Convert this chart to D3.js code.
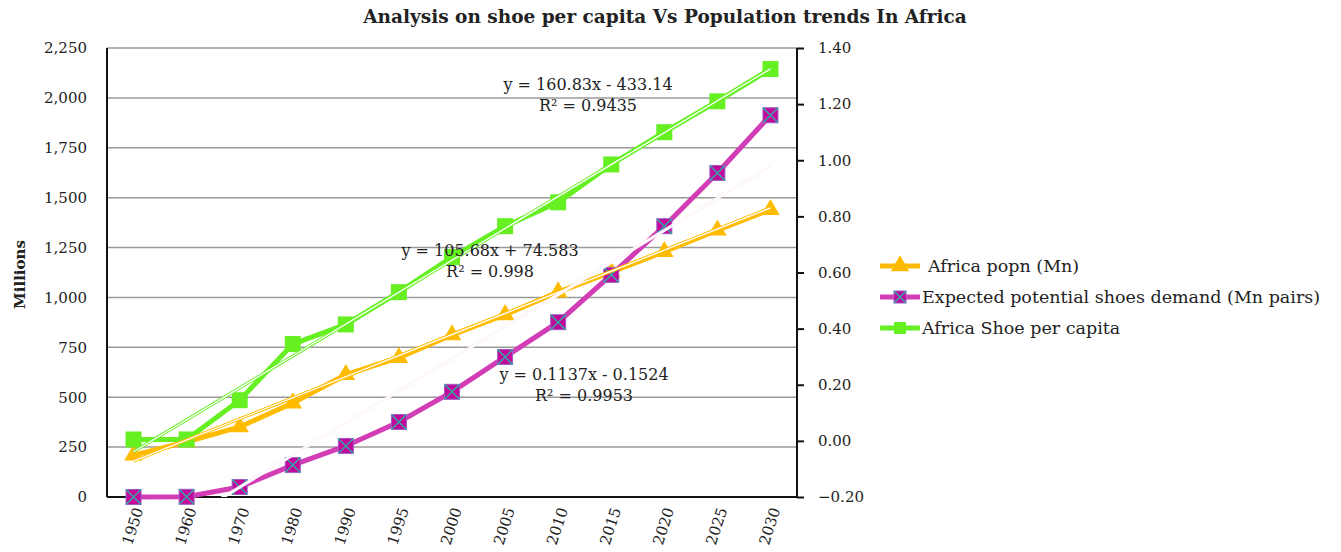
<!DOCTYPE html>
<html>
<head>
<meta charset="utf-8">
<script src="https://cdn.jsdelivr.net/npm/d3@7"></script>
<style>
  body { margin: 0; background: #fff; }
  text { font-family: "DejaVu Serif", "Liberation Serif", serif; fill: #222; }
  .grid line { stroke: #9a9a9a; stroke-width: 1.5; }
  .axis path, .axis line { stroke: #111; stroke-width: 2; }
  .axis text { font-size: 15px; }
</style>
</head>
<body>
<div id="chart"></div>
<script>
var years = ['1950', '1960', '1970', '1980', '1990', '1995', '2000', '2005', '2010', '2015', '2020', '2025', '2030'];
var popn = [210, 276, 351, 471, 613, 698, 812, 913, 1027, 1127, 1229, 1337, 1440];
var demand = [0, 1, 50, 160, 256, 376, 527, 702, 876, 1113, 1357, 1624, 1913];
var perCapita = [0.005, 0.005, 0.145, 0.345, 0.415, 0.53, 0.655, 0.765, 0.85, 0.985, 1.1, 1.21, 1.325];

var leftTicks = [0, 250, 500, 750, 1000, 1250, 1500, 1750, 2000, 2250];
var rightTicks = [-0.2, 0, 0.2, 0.4, 0.6, 0.8, 1.0, 1.2, 1.4];

// trendline coefficients [slope, intercept], as printed on the chart
var popnTrend = [105.68, 74.583];
var demandTrend = [160.83, -433.14];
var perCapitaTrend = [0.1137, -0.1524];

var seriesNames = ['Africa popn (Mn)', 'Expected potential shoes demand (Mn pairs)', 'Africa Shoe per capita'];
var trendLabels = [
  ['y = 105.68x + 74.583', 'R² = 0.998'],
  ['y = 160.83x - 433.14', 'R² = 0.9435'],
  ['y = 0.1137x - 0.1524', 'R² = 0.9953']
];

var W = 1341, H = 552;
var margin = {top: 48, right: 544, bottom: 55, left: 107};
var width = W - margin.left - margin.right,
    height = H - margin.top - margin.bottom;

var svg = d3.select('#chart').append('svg')
    .attr('width', W)
    .attr('height', H);

var g = svg.append('g')
    .attr('transform', 'translate(' + margin.left + ',' + margin.top + ')');

var x = d3.scaleBand().domain(years).range([0, width]),
    yL = d3.scaleLinear().domain([0, 2250]).range([height, 0]),
    yR = d3.scaleLinear().domain([-0.2, 1.4]).range([height, 0]),
    cx = function(d, i) { return x(years[i]) + x.bandwidth() / 2; },
    xTrend = d3.scaleLinear().domain([1, years.length])
        .range([x(years[0]) + x.bandwidth() / 2, x(years[years.length - 1]) + x.bandwidth() / 2]);

var colors = {
  popn: '#ffbb00',
  demand: '#d23cb4',
  demandFill: '#c4079a',
  demandEdge: '#9b5fc8',
  demandX: '#2ea9a6',
  green: '#66f022'
};

// gridlines from the left axis
g.append('g')
    .attr('class', 'grid')
  .selectAll('line')
  .data(leftTicks.slice(1))
    .enter().append('line')
    .attr('x1', 0)
    .attr('x2', width)
    .attr('y1', function(d) { return yL(d); })
    .attr('y2', function(d) { return yL(d); });

// axes
g.append('g')
    .attr('class', 'axis')
    .call(d3.axisLeft(yL).tickValues(leftTicks).tickSize(0).tickPadding(20).tickFormat(d3.format(',')))
    .call(function(a) { a.select('.domain').attr('d', 'M0,0V' + height); });

g.append('g')
    .attr('class', 'axis')
    .attr('transform', 'translate(' + width + ',0)')
    .call(d3.axisRight(yR).tickValues(rightTicks).tickSize(7).tickPadding(14).tickFormat(d3.format('.2f')))
    .call(function(a) { a.select('.domain').attr('d', 'M0,0V' + height); });

g.append('line')
    .attr('x1', 0).attr('x2', width)
    .attr('y1', height).attr('y2', height)
    .style('stroke', '#111').style('stroke-width', 2);

// rotated year labels
g.append('g')
  .selectAll('text')
  .data(years)
    .enter().append('text')
    .attr('transform', function(d, i) { return 'translate(' + (cx(d, i) + 5) + ',' + (height + 11) + ') rotate(-72)'; })
    .attr('text-anchor', 'end')
    .attr('dy', '0.35em')
    .style('font-size', '15px')
    .text(function(d) { return d; });

// axis title
svg.append('text')
    .attr('transform', 'translate(25,' + (margin.top + height / 2 + 2) + ') rotate(-90)')
    .attr('text-anchor', 'middle')
    .style('font-size', '15px')
    .style('font-weight', 'bold')
    .text('Millions');

// chart title
svg.append('text')
    .attr('x', 665)
    .attr('y', 23)
    .attr('text-anchor', 'middle')
    .style('font-size', '18.5px')
    .style('font-weight', 'bold')
    .text('Analysis on shoe per capita Vs Population trends In Africa');

// series lines
var lineL = d3.line().x(cx).y(function(d) { return yL(d); }),
    lineR = d3.line().x(cx).y(function(d) { return yR(d); });

g.append('path').datum(popn)
    .attr('d', lineL)
    .style('fill', 'none').style('stroke', colors.popn).style('stroke-width', 5);

g.append('path').datum(demand)
    .attr('d', lineL)
    .style('fill', 'none').style('stroke', colors.demand).style('stroke-width', 5);

g.append('path').datum(perCapita)
    .attr('d', lineR)
    .style('fill', 'none').style('stroke', colors.green).style('stroke-width', 5);

// markers
var tri = d3.symbol().type(d3.symbolTriangle).size(150);

function triangles(sel, color) {
  sel.append('path').attr('d', tri).style('fill', color);
}
function crossSquares(sel, s) {
  sel.append('rect')
      .attr('x', -s / 2).attr('y', -s / 2).attr('width', s).attr('height', s)
      .style('fill', colors.demandFill).style('stroke', colors.demandEdge).style('stroke-width', 1);
  sel.append('path')
      .attr('d', 'M' + (-s / 2) + ',' + (-s / 2) + 'L' + (s / 2) + ',' + (s / 2) + 'M' + (s / 2) + ',' + (-s / 2) + 'L' + (-s / 2) + ',' + (s / 2))
      .style('stroke', colors.demandX).style('stroke-width', 1.5);
}
function squares(sel, s) {
  sel.append('rect')
      .attr('x', -s / 2).attr('y', -s / 2).attr('width', s).attr('height', s)
      .style('fill', colors.green);
}

g.selectAll('.popn-mark')
  .data(popn)
    .enter().append('g')
    .attr('class', 'popn-mark')
    .attr('transform', function(d, i) { return 'translate(' + cx(d, i) + ',' + yL(d) + ')'; })
    .call(triangles, colors.popn);

g.selectAll('.demand-mark')
  .data(demand)
    .enter().append('g')
    .attr('class', 'demand-mark')
    .attr('transform', function(d, i) { return 'translate(' + cx(d, i) + ',' + yL(d) + ')'; })
    .call(crossSquares, 15);

g.selectAll('.pc-mark')
  .data(perCapita)
    .enter().append('g')
    .attr('class', 'pc-mark')
    .attr('transform', function(d, i) { return 'translate(' + cx(d, i) + ',' + yR(d) + ')'; })
    .call(squares, 16);

// trendlines on top, clipped to the plot area
svg.append('defs').append('clipPath').attr('id', 'plot')
  .append('rect').attr('width', width).attr('height', height);

var trends = g.append('g').attr('clip-path', 'url(#plot)');

function trend(coef, scale, color) {
  var pts = [1, years.length].map(function(t) { return [xTrend(t), scale(coef[0] * t + coef[1])]; });
  trends.append('path')
      .attr('d', d3.line()(pts))
      .style('stroke', color).style('stroke-width', 3.2).style('fill', 'none');
  trends.append('path')
      .attr('d', d3.line()(pts))
      .style('stroke', '#fff').style('stroke-width', 1.3).style('fill', 'none');
}
trend(popnTrend, yL, colors.popn);
trend(demandTrend, yL, '#fcf0fa');
trend(perCapitaTrend, yR, colors.green);

// trendline equations
var labelPos = [[490, 251], [588, 85], [584, 375]];
trendLabels.forEach(function(lines, k) {
  var t = svg.append('text')
      .attr('x', labelPos[k][0])
      .attr('y', labelPos[k][1] + 5)
      .attr('text-anchor', 'middle')
      .style('font-size', '16px');
  lines.forEach(function(s, j) {
    t.append('tspan').attr('x', labelPos[k][0]).attr('dy', j ? 21 : 0).text(s);
  });
});

// legend
var legend = svg.append('g').attr('transform', 'translate(880,266)');
var items = legend.selectAll('g')
  .data(seriesNames)
    .enter().append('g')
    .attr('transform', function(d, i) { return 'translate(0,' + i * 31 + ')'; });

items.append('line')
    .attr('x1', 0).attr('x2', 40)
    .style('stroke', function(d, i) { return [colors.popn, colors.demand, colors.green][i]; })
    .style('stroke-width', 5);

items.append('g')
    .attr('transform', 'translate(20,0)')
    .each(function(d, i) {
      var m = d3.select(this);
      if (i === 0) m.call(triangles, colors.popn);
      else if (i === 1) m.call(crossSquares, 12);
      else m.call(squares, 12);
    });

items.append('text')
    .attr('x', function(d, i) { return i === 0 ? 48 : 42; })
    .attr('dy', '0.35em')
    .style('font-size', '17.5px')
    .text(function(d) { return d; });
</script>
</body>
</html>
